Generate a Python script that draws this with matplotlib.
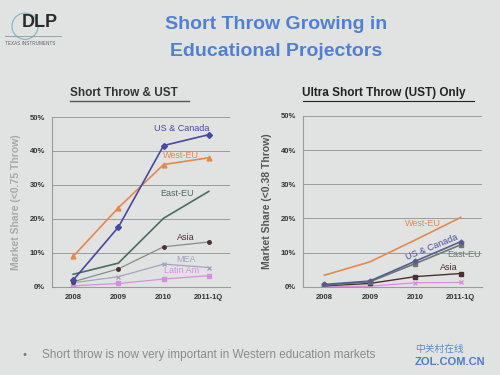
import matplotlib
matplotlib.use("Agg")
import matplotlib.pyplot as plt
from matplotlib.lines import Line2D
from matplotlib.patches import Ellipse

plt.rcParams['font.family'] = ['Liberation Sans', 'DejaVu Sans']

years = ["2008", "2009", "2010", "2011-1Q"]

# left chart: short throw & UST (share %)
st_us = [2.0, 17.6, 41.6, 44.8]
st_west = [9.0, 23.3, 36.0, 38.0]
st_east = [3.7, 7.0, 20.2, 28.1]
st_asia = [1.5, 5.3, 11.8, 13.2]
st_mea = [1.2, 3.0, 6.7, 5.7]
st_latin = [0.3, 1.0, 2.3, 3.3]

# right chart: UST only (share %)
ust_west = [3.4, 7.3, 13.7, 20.3]
ust_us = [0.7, 1.7, 7.5, 13.2]
ust_east = [0.5, 1.5, 6.8, 12.3]
ust_asia = [0.3, 1.0, 3.0, 3.9]
ust_latin = [0.1, 0.2, 1.2, 1.3]

yticks = [0, 10, 20, 30, 40, 50]

bg = "#e1e3e2"
c_us = "#4848a0"
c_west = "#e5884e"
c_east = "#4a6e5c"
c_asia = "#4a3030"
c_mea = "#a4a4bc"
c_latin = "#d88ee0"

fig = plt.figure(figsize=(5, 3.75), dpi=100, facecolor=bg)


def setup(ax, ylabel, ycolor):
    ax.set_facecolor(bg)
    ax.set_xlim(-0.47, 3.47)
    ax.set_ylim(0, 50)
    ax.set_yticks(yticks)
    ax.set_yticklabels([f"{v}%" for v in yticks], fontsize=5.5, fontweight='bold', color="#333333")
    ax.set_xticks(range(len(years)))
    ax.set_xticklabels(years, fontsize=5.5, fontweight='bold', color="#333333")
    ax.grid(axis='y', color="#9a9c9c", lw=0.7)
    ax.set_axisbelow(True)
    for s in ["top", "right"]:
        ax.spines[s].set_visible(False)
    for s in ["left", "bottom"]:
        ax.spines[s].set_color("#9a9c9c")
    ax.tick_params(length=0, pad=5)
    ax.set_ylabel(ylabel, fontsize=7.5, fontweight='bold', color=ycolor, labelpad=6)


x = range(len(years))

ax1 = fig.add_axes([0.104, 0.235, 0.356, 0.453])
setup(ax1, "Market Share (<0.75 Throw)", "#a8aaaa")
ax1.plot(x, st_latin, color=c_latin, marker='s', ms=3, lw=0.9)
ax1.plot(x, st_mea, color=c_mea, marker='x', ms=3, lw=0.9)
ax1.plot(x, st_asia, color="#8a8a8a", marker='o', ms=2.5, mfc=c_asia, mec=c_asia, lw=0.9)
ax1.plot(x, st_east, color=c_east, lw=1.2)
ax1.plot(x, st_west, color=c_west, marker='^', ms=3.5, lw=1.2)
ax1.plot(x, st_us, color=c_us, marker='D', ms=3, lw=1.2)
ax1.text(2.39, 46.5, "US & Canada", color=c_us, fontsize=6.5, ha='center', va='center')
ax1.text(2.39, 38.8, "West-EU", color=c_west, fontsize=6.5, ha='center', va='center')
ax1.text(2.3, 27.4, "East-EU", color=c_east, fontsize=6.5, ha='center', va='center')
ax1.text(2.5, 14.4, "Asia", color=c_asia, fontsize=6.5, ha='center', va='center')
ax1.text(2.5, 8.2, "MEA", color=c_mea, fontsize=6.5, ha='center', va='center')
ax1.text(2.4, 4.7, "Latin Am", color=c_latin, fontsize=6.5, ha='center', va='center')

ax2 = fig.add_axes([0.606, 0.235, 0.358, 0.456])
setup(ax2, "Market Share (<0.38 Throw)", "#555555")
ax2.plot(x, ust_latin, color=c_latin, marker='x', ms=2.5, lw=0.9)
ax2.plot(x, ust_asia, color=c_asia, marker='s', ms=2.5, lw=1.0)
ax2.plot(x, ust_east, color="#6a7a70", marker='s', ms=2.5, lw=1.2)
ax2.plot(x, ust_us, color="#5a5a90", marker='D', ms=2.5, lw=1.2)
ax2.plot(x, ust_west, color=c_west, lw=1.2)
ax2.text(2.18, 18.4, "West-EU", color=c_west, fontsize=6.5, ha='center', va='center')
ax2.text(2.36, 11.7, "US & Canada", color=c_us, fontsize=6.5, ha='center', va='center', rotation=22)
ax2.text(3.07, 9.6, "East-EU", color="#6a7a70", fontsize=6.5, ha='center', va='center')
ax2.text(2.74, 5.6, "Asia", color=c_asia, fontsize=6.5, ha='center', va='center')

# title
fig.text(0.552, 0.935, "Short Throw Growing in", color="#4f80d4", fontsize=14, fontweight='bold', ha='center', va='center')
fig.text(0.552, 0.862, "Educational Projectors", color="#4f80d4", fontsize=14, fontweight='bold', ha='center', va='center')

# subtitles
fig.text(0.14, 0.752, "Short Throw & UST", color="#333333", fontsize=8.5, fontweight='bold', va='center')
fig.add_artist(Line2D([0.14, 0.378], [0.73, 0.73], color="#555555", lw=1.0))
fig.text(0.605, 0.752, "Ultra Short Throw (UST) Only", color="#222222", fontsize=8.5, fontweight='bold', va='center')
fig.add_artist(Line2D([0.605, 0.948], [0.73, 0.73], color="#222222", lw=0.8))

# logo
fig.add_artist(Ellipse((0.05, 0.93), 0.052, 0.07, fill=False, ec="#8ab8c4", lw=0.9))
fig.text(0.044, 0.941, "DLP", color="#2a2a2a", fontsize=13, fontweight='bold', va='center')
fig.add_artist(Line2D([0.01, 0.122], [0.904, 0.904], color="#8a9aa0", lw=0.6))
fig.text(0.01, 0.884, "TEXAS INSTRUMENTS", color="#606060", fontsize=3.3, va='center')

# bullet
fig.text(0.045, 0.053, "•", color="#777777", fontsize=8, va='center')
fig.text(0.083, 0.053, "Short throw is now very important in Western education markets",
         color="#8a8a8a", fontsize=8.5, va='center')

# watermark
fig.text(0.83, 0.07, "中关村在线", family=['Noto Sans CJK SC', 'DejaVu Sans'], color="#5a8ad0", fontsize=7, va='center')
fig.text(0.83, 0.035, "ZOL.COM.CN", color="#4a7cc8", fontsize=8, fontweight='bold', va='center')

fig.savefig("out.png", dpi=100, facecolor=bg)
